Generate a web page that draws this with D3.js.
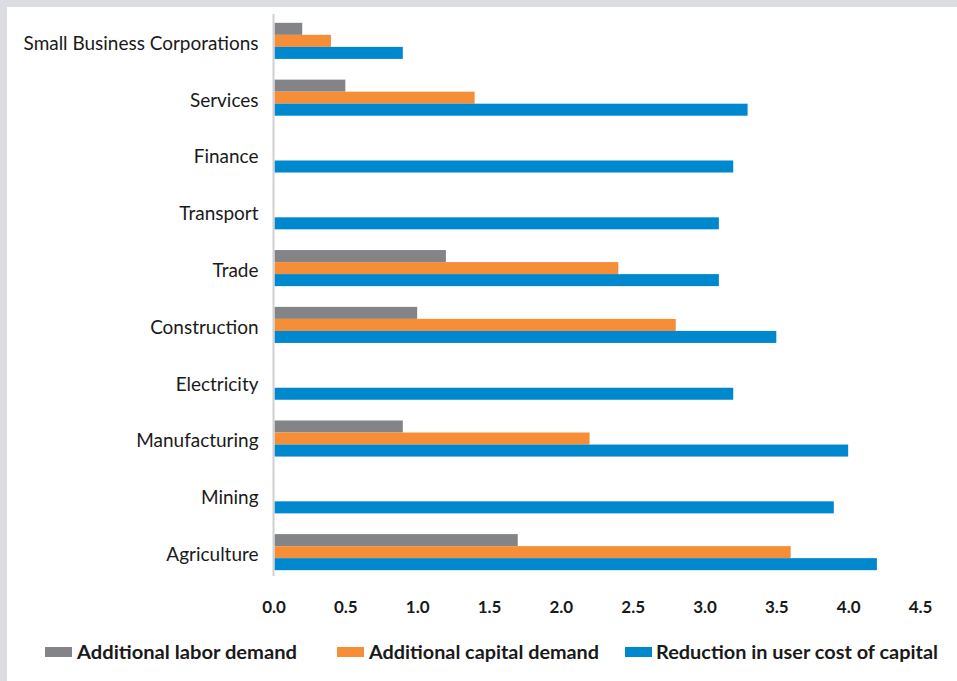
<!DOCTYPE html>
<html><head><meta charset="utf-8">
<script src="https://cdn.jsdelivr.net/npm/d3@7"></script>
<style>
html,body{margin:0;padding:0;background:#dcdde0;}
svg{display:block;}
</style></head>
<body>
<svg id="chart" width="957" height="681"></svg>
<script>
const categories = ["Small Business Corporations","Services","Finance","Transport","Trade","Construction","Electricity","Manufacturing","Mining","Agriculture"];
const seriesNames = ["Additional labor demand","Additional capital demand","Reduction in user cost of capital"];
const labor   = [0.2, 0.5, null, null, 1.2, 1.0, null, 0.9, null, 1.7];
const capital = [0.4, 1.4, null, null, 2.4, 2.8, null, 2.2, null, 3.6];
const userCost= [0.9, 3.3, 3.2, 3.1, 3.1, 3.5, 3.2, 4.0, 3.9, 4.2];
const ticks = [0, 0.5, 1.0, 1.5, 2.0, 2.5, 3.0, 3.5, 4.0, 4.5];
const colors = ["#838487", "#f68e38", "#0088cf"];

const svg = d3.select("#chart");
svg.append("rect").attr("x",7).attr("y",7).attr("width",950).attr("height",674).attr("fill","#fff");

const x = d3.scaleLinear().domain([0,4.5]).range([273.5, 920]);
const y = d3.scaleBand().domain(categories).range([12.6, 580.4]).paddingInner(0.365).paddingOuter(0.18);
const sub = d3.scaleBand().domain(seriesNames).range([0, y.bandwidth()]);

const series = [labor, capital, userCost];
series.forEach((vals, si) => {
  svg.append("g").selectAll("rect").data(categories.map((c,i)=>({c, v: vals[i]})).filter(d=>d.v!=null))
    .join("rect")
    .attr("x", x(0)+1)
    .attr("y", d => y(d.c) + sub(seriesNames[si]))
    .attr("width", d => x(d.v) - x(0) - 1)
    .attr("height", sub.bandwidth())
    .attr("fill", colors[si]);
});

// vertical axis line
svg.append("line").attr("x1", x(0)).attr("x2", x(0)).attr("y1", 14).attr("y2", 576)
  .attr("stroke", "#d0d0d0").attr("stroke-width", 2);

// category labels
const yAxis = d3.axisLeft(y).tickSize(0).tickPadding(15);
const gy = svg.append("g").attr("transform", `translate(${x(0)},0)`).call(yAxis);
gy.select(".domain").remove();
gy.selectAll("text").attr("font-family","Lato, 'Open Sans', sans-serif").attr("font-size", 18.5)
  .attr("fill","#1a1a1a").attr("dy","0.48em")
  .each(function(){ const w = this.getComputedTextLength(); d3.select(this).attr("textLength", w*1.025).attr("lengthAdjust","spacingAndGlyphs"); });

// x tick labels
const xAxis = d3.axisBottom(x).tickValues(ticks).tickFormat(d3.format(".1f")).tickSize(0).tickPadding(0);
const gx = svg.append("g").attr("transform", `translate(0,600.5)`).call(xAxis);
gx.select(".domain").remove();
gx.selectAll("text").attr("font-family","Lato, 'Open Sans', sans-serif").attr("font-size", 17)
  .attr("font-weight","bold").attr("fill","#1a1a1a");

// legend
const legendX = [45, 337, 625];
const legendW = [220, 230, 282];
const lg = svg.append("g");
seriesNames.forEach((n, i) => {
  lg.append("rect").attr("x", legendX[i]).attr("y", 647).attr("width", 27).attr("height", 10).attr("fill", colors[i]);
  lg.append("text").attr("x", legendX[i] + (i==2?31:32)).attr("y", 658.5).text(n)
    .attr("font-family","Lato, 'Open Sans', sans-serif").attr("font-size", 18.5).attr("font-weight","bold").attr("fill","#1a1a1a")
    .attr("textLength", legendW[i]).attr("lengthAdjust","spacingAndGlyphs");
});
</script>
</body></html>
